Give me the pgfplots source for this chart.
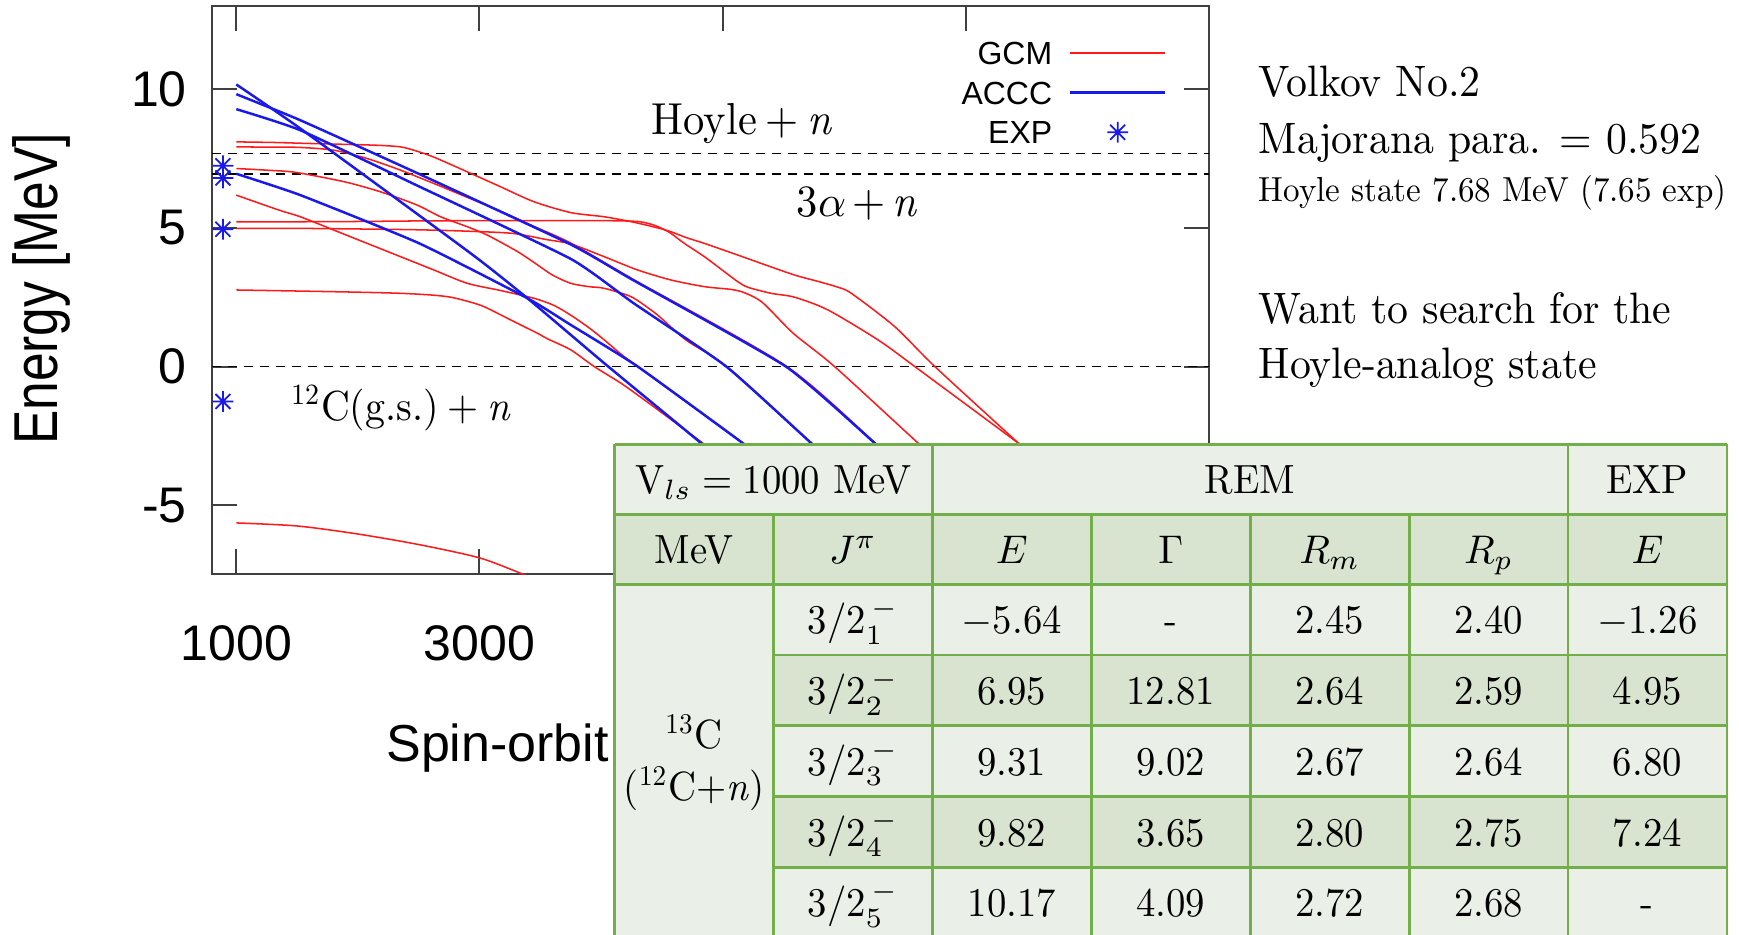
\documentclass[border=0pt]{standalone}
\usepackage{fontspec}
\setmainfont{lmroman10-regular.otf}[ItalicFont=lmroman10-italic.otf,FakeStretch=0.95]
\newfontfamily\plotsf{Liberation Sans}
\newfontfamily\plotsfn{Liberation Sans}[FakeStretch=0.83]
\usepackage{pgfplots}
\pgfplotsset{compat=1.18}
\definecolor{tgreen}{HTML}{72AF4A}
\definecolor{tlight}{HTML}{EAF0E8}
\definecolor{tdark}{HTML}{D8E4D0}
\definecolor{gcm}{RGB}{255,25,25}
\definecolor{accc}{RGB}{25,25,235}
\pgfdeclareplotmark{gstar}{%
  \pgfpathmoveto{\pgfqpoint{-\pgfplotmarksize}{0pt}}%
  \pgfpathlineto{\pgfqpoint{\pgfplotmarksize}{0pt}}%
  \pgfpathmoveto{\pgfqpoint{0pt}{-\pgfplotmarksize}}%
  \pgfpathlineto{\pgfqpoint{0pt}{\pgfplotmarksize}}%
  \pgfpathmoveto{\pgfqpoint{-0.72\pgfplotmarksize}{-0.72\pgfplotmarksize}}%
  \pgfpathlineto{\pgfqpoint{0.72\pgfplotmarksize}{0.72\pgfplotmarksize}}%
  \pgfpathmoveto{\pgfqpoint{-0.72\pgfplotmarksize}{0.72\pgfplotmarksize}}%
  \pgfpathlineto{\pgfqpoint{0.72\pgfplotmarksize}{-0.72\pgfplotmarksize}}%
  \pgfusepathqstroke}
\pgfplotsset{
  gcml/.style={gcm, line width=0.38pt, smooth, tension=0.45, no markers},
  acccl/.style={accc, line width=0.62pt, smooth, tension=0.3, no markers},
  thr/.style={black, line width=0.4pt, dash pattern=on 2.2pt off 1.8pt, forget plot, no markers},
  starleg/.style={legend image code/.code={\draw[mark repeat=2,mark phase=2,##1] plot coordinates {(0pt,0pt) (11.85pt,0pt) (23.7pt,0pt)};}},
}
\newcommand\tabfont{\fontsize{10.2pt}{12pt}\selectfont}
\begin{document}
\begin{tikzpicture}
\useasboundingbox (0,0) rectangle (434.75pt,233.5pt);
\clip (0,0) rectangle (434.75pt,233.5pt);
\begin{axis}[
  at={(53pt,89.875pt)}, anchor=south west,
  scale only axis, width=249.25pt, height=142.125pt,
  xmin=800, xmax=9000, ymin=-7.5, ymax=13,
  xtick={1000,3000,5000,7000,9000},
  xticklabels={1000,3000,{},{},{}},
  ytick={-5,0,5,10},
  yticklabels={-5,0,5,10},
  tick align=inside,
  major tick length=6.3pt,
  axis line style={black!75, line width=0.5pt},
  tick style={black!75, line width=0.5pt},
  tick label style={font=\plotsf\fontsize{12.5pt}{14pt}\selectfont},
  yticklabel style={xshift=-2.8pt},
  xticklabel style={yshift=-9.2pt},
  xlabel={Spin-orbit},
  xlabel style={at={(axis description cs:0.1741,-0.3293)}, anchor=base west, inner sep=0pt, font=\plotsf\fontsize{13pt}{15pt}\selectfont},
  ylabel={Energy [MeV]},
  ylabel style={at={(axis description cs:-0.1545,0.5022)}, anchor=base, inner sep=0pt, font=\plotsfn\fontsize{15.5pt}{17pt}\selectfont},
  legend style={at={(axis description cs:0.958,0.939)}, anchor=north east, draw=none, fill=none, inner sep=0pt, row sep=4.1pt,
     font=\plotsf\fontsize{8pt}{9pt}\selectfont, nodes={inner sep=0pt, text height=5.8pt, text depth=0pt},
     /tikz/every odd column/.append style={column sep=4.2pt}},
  legend cell align=right,
  legend plot pos=right,
  legend image code/.code={\draw[#1] (0pt,0pt) -- (23.7pt,0pt);},
]
% thresholds
\addplot[thr] coordinates {(800,7.68) (9000,7.68)};
\addplot[thr] coordinates {(800,6.94) (9000,6.94)};
\addplot[thr] coordinates {(800,0) (9000,0)};
% GCM
\addplot[gcml] coordinates {(1000,8.10) (1300,8.08) (1626,8.04) (2000,8.00) (2200,7.97) (2351,7.92) (2460,7.80) (2625,7.55) (2900,7.02) (3174,6.48) (3449,5.94) (3751,5.55) (4026,5.40) (4250,5.22) (4465,5.00) (4575,4.86) (4700,4.65) (4850,4.44) (5124,4.02) (5316,3.72) (5591,3.30) (5800,3.05) (5948,2.86) (6058,2.64) (6415,1.44) (6745,0.00) (7431,-2.76) (8000,-5.05)};
\addlegendentry{GCM}
\addplot[gcml, forget plot] coordinates {(1000,7.92) (1300,7.91) (1527,7.90) (1802,7.80) (2076,7.50) (2351,7.08) (2625,6.60) (2900,6.10) (3174,5.60) (3449,5.05) (3751,4.45) (4262,3.15) (5520,0.02) (6250,-2.74) (6800,-4.9)};
\addplot[gcml, forget plot] coordinates {(1000,5.22) (1527,5.22) (2000,5.23) (2500,5.25) (3000,5.26) (3500,5.26) (4026,5.26) (4300,5.23) (4420,5.12) (4500,4.98) (4575,4.80) (4685,4.44) (4850,3.96) (5014,3.42) (5124,3.06) (5206,2.86) (5398,2.64) (5591,2.50) (5866,2.04) (6278,0.96) (6580,0.00) (7431,-2.76) (8000,-4.6)};
\addplot[gcml, forget plot] coordinates {(1000,7.14) (1250,7.08) (1489,7.00) (1900,6.65) (2200,6.28) (2488,5.82) (2680,5.40) (2900,5.04) (3064,4.74) (3311,4.15) (3449,3.75) (3600,3.30) (3751,3.00) (3900,2.88) (4026,2.82) (4246,2.52) (4410,2.04) (4493,1.75) (4700,0.95) (5030,0.00) (5728,-2.76) (6200,-4.6)};
\addplot[gcml, forget plot] coordinates {(1000,4.98) (1527,4.98) (2000,4.96) (2500,4.93) (2900,4.88) (3274,4.80) (3548,4.58) (3751,4.42) (4026,3.96) (4301,3.48) (4575,3.12) (4850,2.88) (5069,2.78) (5180,2.66) (5330,2.30) (5580,1.20) (5920,0.00) (6607,-2.76) (7000,-4.3)};
\addplot[gcml, forget plot] coordinates {(1000,6.18) (1351,5.64) (1527,5.40) (1802,4.92) (2076,4.44) (2351,3.96) (2625,3.48) (2900,3.00) (3174,2.74) (3449,2.46) (3614,2.20) (3751,1.85) (3900,1.40) (4026,0.96) (4163,0.45) (4301,0.00) (5165,-2.76) (5700,-4.5)};
\addplot[gcml, forget plot] coordinates {(1000,2.76) (1527,2.72) (2000,2.68) (2351,2.64) (2600,2.58) (2763,2.50) (2928,2.32) (3037,2.16) (3203,1.80) (3311,1.56) (3477,1.20) (3559,1.00) (3751,0.60) (3943,0.00) (4163,-0.60) (4355,-1.20) (4836,-2.76) (5300,-4.3)};
\addplot[gcml, forget plot] coordinates {(1000,-5.64) (1500,-5.75) (2000,-6.04) (2500,-6.42) (3000,-6.90) (3364,-7.50) (3700,-8.1)};
% ACCC
\addplot[acccl] coordinates {(1000,10.17) (1527,8.58) (2928,4.08) (3395,2.46) (4026,0.12) (4822,-2.76) (5300,-4.5)};
\addlegendentry{ACCC}
\addplot[acccl, forget plot] coordinates {(1000,9.82) (1527,8.88) (2500,6.95) (3751,4.40) (4262,3.12) (5520,0.00) (6250,-2.76) (6700,-4.6)};
\addplot[acccl, forget plot] coordinates {(1000,9.28) (1527,8.52) (2500,6.50) (3751,3.88) (4262,2.30) (5030,0.00) (5728,-2.76) (6200,-4.6)};
\addplot[acccl, forget plot] coordinates {(1000,6.95) (1527,6.18) (2500,4.45) (3395,2.46) (3751,1.50) (4301,0.00) (5165,-2.76) (5700,-4.5)};
% EXP
\addplot[accc, only marks, mark=gstar, mark size=2.6pt, line width=0.45pt, starleg]
  coordinates {(890,-1.26) (890,4.95) (890,6.80) (890,7.24)};
\addlegendentry{EXP}
% labels
\node[anchor=base west, inner sep=0pt, font=\fontsize{11.2pt}{13pt}\selectfont] at (axis cs:4410,8.35) {Hoyle\hspace{2.2pt}+\hspace{2.2pt}\textit{n}};
\node[anchor=base west, inner sep=0pt, font=\fontsize{11.2pt}{13pt}\selectfont] at (axis cs:5603,5.40) {3$\alpha$\hspace{1.6pt}+\hspace{1.6pt}\textit{n}};
\node[anchor=base west, inner sep=0pt, font=\fontsize{10.5pt}{12pt}\selectfont] at (axis cs:1444,-1.93) {\textsuperscript{12}C(g.s.)\hspace{2.2pt}+\hspace{2.2pt}\textit{n}};
\end{axis}
% right-hand text
\node[anchor=base west, inner sep=0pt, font=\fontsize{11pt}{13pt}\selectfont] at (314.5pt,209.3pt) {Volkov No.2};
\node[anchor=base west, inner sep=0pt, font=\fontsize{11pt}{13pt}\selectfont] at (314.5pt,195.2pt) {Majorana para. = 0.592};
\node[anchor=base west, inner sep=0pt, font=\fontsize{8.7pt}{10pt}\selectfont] at (314.5pt,183.1pt) {Hoyle state 7.68 MeV (7.65 exp)};
\node[anchor=base west, inner sep=0pt, font=\fontsize{11pt}{13pt}\selectfont] at (314.5pt,152.7pt) {Want to search for the};
\node[anchor=base west, inner sep=0pt, font=\fontsize{11pt}{13pt}\selectfont] at (314.5pt,138.9pt) {Hoyle-analog state};
% table
\fill[tlight] (153.65pt,-2pt) rectangle (431.725pt,122.425pt);
\fill[tdark] (153.65pt,87.425pt) rectangle (431.725pt,104.925pt);
\fill[tdark] (193.375pt,52.075pt) rectangle (431.725pt,69.75pt);
\fill[tdark] (193.375pt,16.675pt) rectangle (431.725pt,34.325pt);
\begin{scope}[tgreen, line width=0.7pt]
\draw (153.65pt,122.425pt) -- (431.725pt,122.425pt);
\draw (153.65pt,104.925pt) -- (431.725pt,104.925pt);
\draw (153.65pt,87.425pt) -- (431.725pt,87.425pt);
\draw (193.375pt,69.75pt) -- (431.725pt,69.75pt);
\draw (193.375pt,52.075pt) -- (431.725pt,52.075pt);
\draw (193.375pt,34.325pt) -- (431.725pt,34.325pt);
\draw (193.375pt,16.675pt) -- (431.725pt,16.675pt);
\draw (153.65pt,122.425pt) -- (153.65pt,-2pt);
\draw (431.725pt,122.425pt) -- (431.725pt,-2pt);
\draw (233.1pt,122.425pt) -- (233.1pt,-2pt);
\draw (392pt,122.425pt) -- (392pt,-2pt);
\draw (193.375pt,104.925pt) -- (193.375pt,-2pt);
\draw (272.825pt,104.925pt) -- (272.825pt,-2pt);
\draw (312.55pt,104.925pt) -- (312.55pt,-2pt);
\draw (352.275pt,104.925pt) -- (352.275pt,-2pt);
\end{scope}
\begin{scope}[every node/.style={anchor=base, inner sep=0pt, font=\tabfont}]
\node at (193.375pt,110.175pt) {V$_{ls}$\hspace{2.6pt}=\hspace{2.6pt}1000 MeV};
\node at (312.55pt,110.175pt) {REM};
\node at (411.86pt,110.175pt) {EXP};
\node at (173.51pt,92.675pt) {MeV};
\node at (213.24pt,92.675pt) {$J^{\pi}$};
\node at (252.96pt,92.675pt) {$E$};
\node at (292.69pt,92.675pt) {$\Gamma$};
\node at (332.41pt,92.675pt) {$R_m$};
\node at (372.14pt,92.675pt) {$R_p$};
\node at (411.86pt,92.675pt) {$E$};
\node at (173.51pt,46.4pt) {\textsuperscript{13}C};
\node at (173.51pt,33.5pt) {(\textsuperscript{12}C+\textit{n})};
\node at (213.24pt,75.09pt) {3/2$_{1}^{\,-}$};
\node at (252.96pt,75.09pt) {$-$5.64};
\node at (292.69pt,75.09pt) {-};
\node at (332.41pt,75.09pt) {2.45};
\node at (372.14pt,75.09pt) {2.40};
\node at (411.86pt,75.09pt) {$-$1.26};
\node at (213.24pt,57.41pt) {3/2$_{2}^{\,-}$};
\node at (252.96pt,57.41pt) {6.95};
\node at (292.69pt,57.41pt) {12.81};
\node at (332.41pt,57.41pt) {2.64};
\node at (372.14pt,57.41pt) {2.59};
\node at (411.86pt,57.41pt) {4.95};
\node at (213.24pt,39.7pt) {3/2$_{3}^{\,-}$};
\node at (252.96pt,39.7pt) {9.31};
\node at (292.69pt,39.7pt) {9.02};
\node at (332.41pt,39.7pt) {2.67};
\node at (372.14pt,39.7pt) {2.64};
\node at (411.86pt,39.7pt) {6.80};
\node at (213.24pt,22.0pt) {3/2$_{4}^{\,-}$};
\node at (252.96pt,22.0pt) {9.82};
\node at (292.69pt,22.0pt) {3.65};
\node at (332.41pt,22.0pt) {2.80};
\node at (372.14pt,22.0pt) {2.75};
\node at (411.86pt,22.0pt) {7.24};
\node at (213.24pt,4.34pt) {3/2$_{5}^{\,-}$};
\node at (252.96pt,4.34pt) {10.17};
\node at (292.69pt,4.34pt) {4.09};
\node at (332.41pt,4.34pt) {2.72};
\node at (372.14pt,4.34pt) {2.68};
\node at (411.86pt,4.34pt) {-};
\end{scope}
\end{tikzpicture}
\end{document}
